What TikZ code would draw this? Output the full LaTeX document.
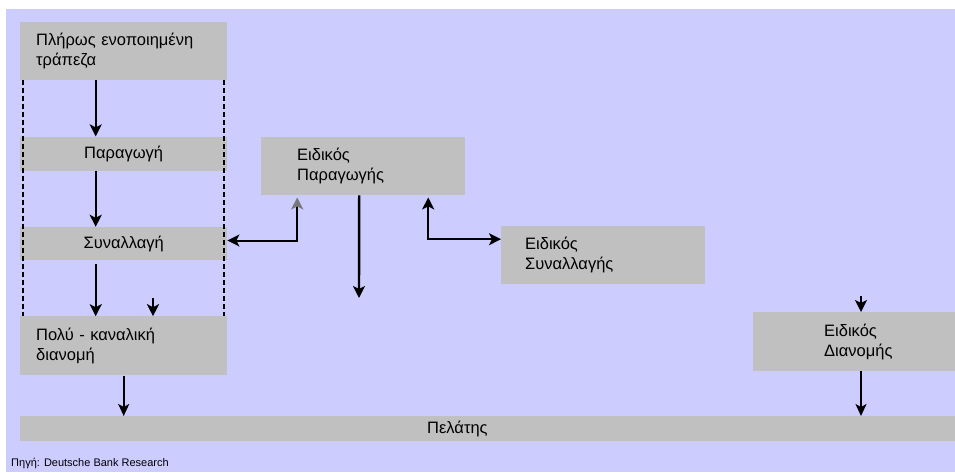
\documentclass[tikz,border=0pt]{standalone}
\usepackage{fontspec}
\setmainfont{Liberation Sans}
\usetikzlibrary{arrows.meta,positioning}
\definecolor{bgLavender}{RGB}{204,204,255}
\definecolor{boxGray}{RGB}{192,192,192}
\definecolor{tipGray}{RGB}{120,120,120}
\tikzset{
  greybox/.style={
    rectangle, fill=boxGray, inner sep=0pt, anchor=north west,
    font=\fontsize{16.5}{20}\selectfont
  },
  flowArrow/.style={-{Stealth[length=12pt,width=12pt,inset=3pt]}, line width=2.4pt},
  thinArrow/.style={-{Stealth[length=12pt,width=11pt,inset=3pt]}, line width=1.8pt},
  sideLine/.style={dash pattern=on 5pt off 3pt, line width=2pt}
}

\begin{document}
\begin{tikzpicture}[x=1pt, y=-1pt]
        \useasboundingbox (0,0) rectangle (955,472);
        \fill[white] (0,0) rectangle (955,472);
        \fill[bgLavender] (6,9) rectangle (955,472);

        % left column: the integrated bank
        \node[greybox, minimum width=207, minimum height=58, text width=175,
              align=left] (bank) at (20,22) {Πλήρως ενοποιημένη\\τράπεζα};
        \node[greybox, minimum width=207, minimum height=34,
              below=56pt of bank] (prod) {Παραγωγή};
        \node[greybox, minimum width=207, minimum height=33,
              below=56pt of prod] (trans) {Συναλλαγή};
        \node[greybox, minimum width=207, minimum height=59, text width=175,
              align=left, below=56pt of trans] (multi) {Πολύ - καναλική\\διανομή};

        % specialists
        \node[greybox, minimum width=204, minimum height=58, text width=132,
              align=left] (spProd) at (261,137) {Ειδικός\\Παραγωγής};
        \node[greybox, minimum width=204, minimum height=58, text width=156,
              align=left] (spTrans) at (501,226) {Ειδικός\\Συναλλαγής};
        \node[greybox, minimum width=202, minimum height=59, text width=60,
              align=left] (spDist) at (753,312) {Ειδικός\\Διανομής};

        \node[greybox, minimum width=935, minimum height=25, text width=121,
              align=left] (client) at (20,416) {Πελάτης};
        \node[anchor=west, inner sep=0pt, font=\fontsize{11}{13}\selectfont]
          (source) at (11,463) {Πηγή: Deutsche Bank Research};

        \draw[sideLine] ([xshift=3]bank.south west) -- ([xshift=3]multi.north west);
        \draw[sideLine] ([xshift=-3]bank.south east) -- ([xshift=-3]multi.north east);

        \coordinate (multiIn) at (153,298);
        \coordinate (spOut) at (359,298);
        \coordinate (distIn) at (861,296);

        \draw[flowArrow] ([xshift=-28]bank.south) -- ([xshift=-28]prod.north);
        \draw[flowArrow] ([xshift=-28]prod.south) -- ([xshift=-28]trans.north);
        \draw[flowArrow] ([xshift=-28,yshift=-4]trans.south) -- ([xshift=-28]multi.north);
        \draw[flowArrow] (multiIn) -- (multiIn |- multi.north);
        \draw[thinArrow] (multi.south) -- (multi.south |- client.north);

        \draw[{Stealth[length=12pt,width=12pt,inset=3pt,color=tipGray]}-{Stealth[length=12pt,width=12pt,inset=3pt]},
              line width=2pt] ([xshift=-66,yshift=-2]spProd.south) |- ([yshift=3]trans.east);
        \draw[flowArrow] ([xshift=-4]spProd.south) -- (spOut);
        \draw[{Stealth[length=12pt,width=12pt,inset=3pt]}-{Stealth[length=12pt,width=12pt,inset=3pt]},
              line width=2pt] ([xshift=65,yshift=-2]spProd.south) |- ([yshift=16]spTrans.west);

        \draw[flowArrow] (distIn) -- (distIn |- spDist.north);
        \draw[thinArrow] (distIn |- spDist.south) -- (distIn |- client.north);
      \end{tikzpicture}
\end{document}
